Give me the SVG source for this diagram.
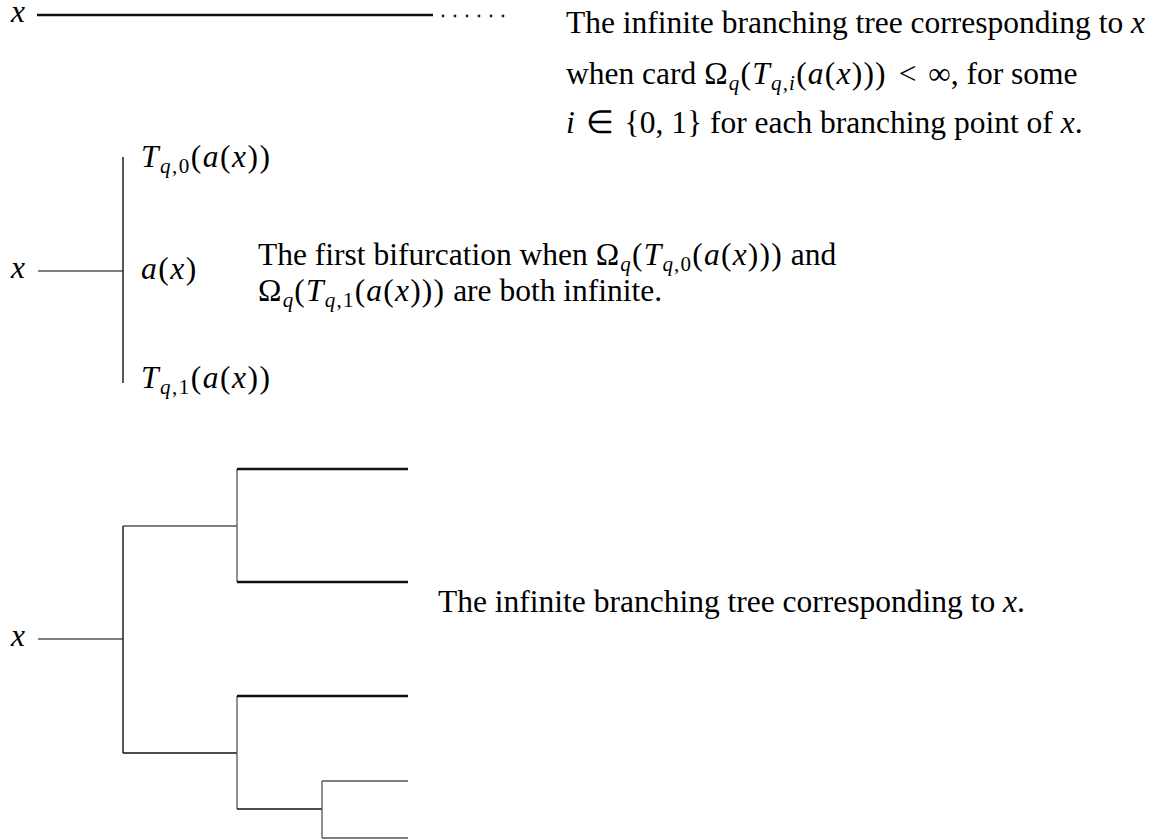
<svg xmlns="http://www.w3.org/2000/svg" width="1168" height="840" viewBox="0 0 1168 840">
<style>
text{font-family:"Liberation Serif","Times New Roman",serif;font-size:31.5px;fill:#000}
.m{font-style:italic}
.ms{letter-spacing:1.2px}
.lbl{letter-spacing:1.5px}
.thin{stroke:#555;stroke-width:1.3;fill:none}
.dark{stroke:#111;stroke-width:1.4;fill:none}
.thick{stroke:#111;stroke-width:2.4;fill:none}
</style>
<rect width="1168" height="840" fill="#fff"/>
<g id="connectors">
  <line class="thick" x1="37" y1="15" x2="433" y2="15"/>
  <g fill="#222">
    <circle cx="443" cy="16" r="1.4"/><circle cx="455" cy="16" r="1.4"/><circle cx="467" cy="16" r="1.4"/>
    <circle cx="479" cy="16" r="1.4"/><circle cx="491" cy="16" r="1.4"/><circle cx="503" cy="16" r="1.4"/>
  </g>
  <line class="thin" x1="38" y1="271" x2="123" y2="271"/>
  <line class="dark" x1="123" y1="157" x2="123" y2="383"/>
  <line class="thin" x1="38" y1="639" x2="123" y2="639"/>
  <line class="dark" x1="123" y1="526" x2="123" y2="753"/>
  <line class="thin" x1="123" y1="526" x2="237" y2="526"/>
  <line class="dark" x1="123" y1="753" x2="237" y2="753"/>
  <line class="thin" x1="237" y1="469" x2="237" y2="582"/>
  <line class="thin" x1="237" y1="696" x2="237" y2="809"/>
  <line class="thick" x1="237" y1="469" x2="408" y2="469"/>
  <line class="thick" x1="237" y1="582" x2="408" y2="582"/>
  <line class="thick" x1="237" y1="696" x2="408" y2="696"/>
  <line class="dark" x1="237" y1="809" x2="322" y2="809"/>
  <line class="thin" x1="322" y1="781" x2="322" y2="838"/>
  <line class="thin" x1="322" y1="781" x2="408" y2="781"/>
  <line class="thin" x1="322" y1="838" x2="408" y2="838"/>
</g>
<g id="top">
  <text x="11" y="22" class="m">x</text>
  <text x="566" y="33">The infinite branching tree corresponding to <tspan class="m">x</tspan></text>
  <text x="566" y="84">when card <tspan class="ms">Ω<tspan dy="6" font-size="21" class="m">q</tspan><tspan dy="-6">(</tspan><tspan class="m">T</tspan><tspan dy="6" font-size="21" class="m">q,i</tspan><tspan dy="-6">(</tspan><tspan class="m">a</tspan>(<tspan class="m">x</tspan>)))</tspan> <tspan dx="4">&lt;</tspan> <tspan dx="4">∞</tspan>, for some</text>
  <text x="566" y="133"><tspan class="m">i</tspan> <tspan dx="3">∈</tspan> <tspan dx="3">{0, 1}</tspan> for each branching point of <tspan class="m">x</tspan>.</text>
</g>
<g id="bifurcation">
  <text x="11" y="278" class="m">x</text>
  <text x="141" y="167" class="lbl"><tspan class="m">T</tspan><tspan dy="6" font-size="21"><tspan class="m">q</tspan>,0</tspan><tspan dy="-6">(</tspan><tspan class="m">a</tspan>(<tspan class="m">x</tspan>))</text>
  <text x="141" y="279" class="lbl"><tspan class="m">a</tspan>(<tspan class="m">x</tspan>)</text>
  <text x="141" y="388" class="lbl"><tspan class="m">T</tspan><tspan dy="6" font-size="21"><tspan class="m">q</tspan>,1</tspan><tspan dy="-6">(</tspan><tspan class="m">a</tspan>(<tspan class="m">x</tspan>))</text>
  <text x="258" y="265">The first bifurcation when <tspan class="ms">Ω<tspan dy="6" font-size="21" class="m">q</tspan><tspan dy="-6">(</tspan><tspan class="m">T</tspan><tspan dy="6" font-size="21"><tspan class="m">q</tspan>,0</tspan><tspan dy="-6">(</tspan><tspan class="m">a</tspan>(<tspan class="m">x</tspan>)))</tspan> and</text>
  <text x="258" y="301"><tspan class="ms">Ω<tspan dy="6" font-size="21" class="m">q</tspan><tspan dy="-6">(</tspan><tspan class="m">T</tspan><tspan dy="6" font-size="21"><tspan class="m">q</tspan>,1</tspan><tspan dy="-6">(</tspan><tspan class="m">a</tspan>(<tspan class="m">x</tspan>)))</tspan> are both infinite.</text>
</g>
<g id="tree">
  <text x="11" y="646" class="m">x</text>
  <text x="438" y="612">The infinite branching tree corresponding to <tspan class="m">x</tspan>.</text>
</g>
</svg>
